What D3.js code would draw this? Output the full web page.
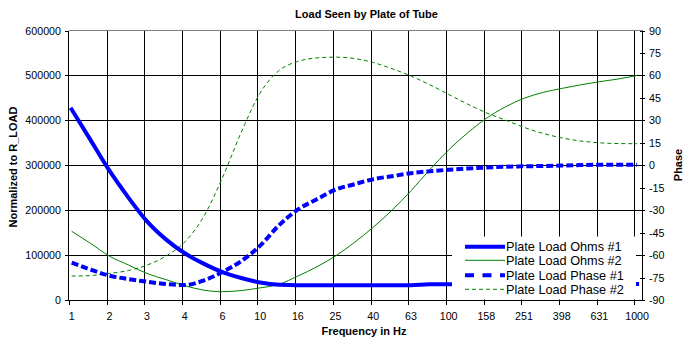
<!DOCTYPE html>
<html>
<head>
<meta charset="utf-8">
<script src="https://cdn.jsdelivr.net/npm/d3@7/dist/d3.min.js"></script>
<style>
  html, body { margin: 0; padding: 0; background: #fff; }
  svg { display: block; font-family: "Liberation Sans", Arial, sans-serif; }
</style>
</head>
<body>
<svg id="chart" width="688" height="341"></svg>
<script>
// Frequencies (Hz) at which the load was evaluated
const freqs = [1, 1.26, 1.58, 2.00, 2.51, 3.16, 3.98, 5.01, 6.31, 7.94,
               10, 12.6, 15.8, 20.0, 25.1, 31.6, 39.8, 50.1, 63.1, 79.4,
               100, 126, 158, 200, 251, 316, 398, 501, 631, 794, 1000];

// Plate load magnitude, normalized to R_LOAD (left axis)
const ohms1 = [424000, 356000, 289000, 228000, 175000, 135000, 104000, 81000, 62000, 49000,
               39000, 34000, 33000, 33000, 33000, 33000, 33000, 33000, 33000, 35000,
               35000, 35000, 35000, 35000, 35000, 35000, 35000, 35000, 35000, 35000, 35500];
const ohms2 = [153000, 126000, 98000, 78000, 59000, 45500, 32000, 22000, 18500, 21000,
               27000, 35000, 53000, 74000, 98000, 128000, 162000, 200000, 243000, 290000,
               334000, 372000, 404000, 430000, 449000, 462000, 471000, 479000, 486000, 492000, 500000];

// Plate load phase in degrees (right axis)
const phase1 = [-65.1, -69.7, -73.7, -76, -77.8, -79.3, -80, -77, -71.3, -64,
                -53.7, -40, -29.7, -22.7, -16.3, -12.7, -9.3, -7.3, -5.3, -4,
                -3, -2.2, -1.5, -1, -0.7, -0.5, -0.2, 0.1, 0.3, 0.3, 0.3];
const phase2 = [-74, -73.7, -72.3, -70.3, -66.7, -60.7, -51.3, -34.4, -8.3, 22.1,
                48.3, 63.3, 69.3, 71.7, 72.2, 71.3, 68.6, 64.5, 59.6, 53.8,
                47.3, 40.9, 35.1, 30.2, 25.3, 21.3, 18.3, 16.2, 15, 14.5, 14.4];

// Axis ticks
const xTickFreqs = [1, 1.585, 2.512, 3.981, 6.310, 10, 15.85, 25.12, 39.81, 63.10,
                    100, 158.5, 251.2, 398.1, 631.0, 1000];
const xTickLabels = ["1", "2", "3", "4", "6", "10", "16", "25", "40", "63",
                     "100", "158", "251", "398", "631", "1000"];
const leftTicks = [0, 100000, 200000, 300000, 400000, 500000, 600000];
const rightTicks = [-90, -75, -60, -45, -30, -15, 0, 15, 30, 45, 60, 75, 90];

const seriesNames = ["Plate Load Ohms #1", "Plate Load Ohms #2", "Plate Load Phase #1", "Plate Load Phase #2"];

const svg = d3.select("#chart");
const plot = { left: 69, right: 643, top: 30.5, bottom: 300 };

// Category-style log axis: each point sits at the centre of its slot
const x = d3.scaleLog().domain([1, 1000]).range([71.7, 637.1]);
const half = (x(Math.pow(10, 1 / 35)) - x(1)) / 2;
const yL = d3.scaleLinear().domain([0, 600000]).range([plot.bottom, plot.top]);
const yR = d3.scaleLinear().domain([-90, 90]).range([plot.bottom, plot.top]);

const blue = "#0000ff", green = "#008000";
const tickFont = "10.7px";

// Gridlines
const grid = svg.append("g").attr("shape-rendering", "crispEdges");
grid.selectAll("line.h").data(leftTicks.slice(1, -1)).join("line")
  .attr("x1", plot.left).attr("x2", plot.right)
  .attr("y1", d => Math.round(yL(d)) + 0.5).attr("y2", d => Math.round(yL(d)) + 0.5)
  .attr("stroke", "#000");
grid.selectAll("line.v").data(xTickFreqs.slice(1)).join("line")
  .attr("x1", d => Math.round(x(d) - half) + 0.5).attr("x2", d => Math.round(x(d) - half) + 0.5)
  .attr("y1", plot.top).attr("y2", plot.bottom)
  .attr("stroke", "#000");
// top border of the plot area
grid.append("line").attr("x1", plot.left).attr("x2", plot.right)
  .attr("y1", 30.5).attr("y2", 30.5).attr("stroke", "#808080");

// Series
svg.append("clipPath").attr("id", "clip").append("rect")
  .attr("x", plot.left).attr("y", plot.top).attr("width", plot.right - plot.left).attr("height", plot.bottom - plot.top);
const g = svg.append("g").attr("clip-path", "url(#clip)");

const lineL = d3.line().x((d, i) => x(freqs[i])).y(d => yL(d)).curve(d3.curveMonotoneX);
const lineR = d3.line().x((d, i) => x(freqs[i])).y(d => yR(d)).curve(d3.curveMonotoneX);

g.append("path").attr("d", lineR(phase2)).attr("fill", "none")
  .attr("stroke", green).attr("stroke-width", 1).attr("stroke-dasharray", "4,3");
g.append("path").attr("d", lineL(ohms2)).attr("fill", "none")
  .attr("stroke", green).attr("stroke-width", 1);
g.append("path").attr("d", lineR(phase1)).attr("fill", "none")
  .attr("stroke", blue).attr("stroke-width", 4).attr("stroke-dasharray", "7,3");
g.append("path").attr("d", lineL(ohms1)).attr("fill", "none")
  .attr("stroke", blue).attr("stroke-width", 4).attr("stroke-linecap", "square");

// Axes lines
const ax = svg.append("g").attr("shape-rendering", "crispEdges").attr("stroke", "#000");
ax.append("line").attr("x1", plot.left - 0.5).attr("x2", plot.left - 0.5).attr("y1", plot.top).attr("y2", plot.bottom + 0.5);
ax.append("line").attr("x1", plot.right - 0.5).attr("x2", plot.right - 0.5).attr("y1", plot.top).attr("y2", plot.bottom + 0.5);
ax.append("line").attr("x1", plot.left - 0.5).attr("x2", plot.right).attr("y1", plot.bottom + 0.5).attr("y2", plot.bottom + 0.5);

// Left ticks and labels
ax.selectAll("line.lt").data(leftTicks).join("line")
  .attr("x1", plot.left - 4).attr("x2", plot.left)
  .attr("y1", d => Math.round(yL(d)) + 0.5).attr("y2", d => Math.round(yL(d)) + 0.5);
svg.selectAll("text.lt").data(leftTicks).join("text")
  .attr("x", 61).attr("y", d => yL(d) + 4).attr("text-anchor", "end")
  .attr("font-size", tickFont).text(d => d);

// Right ticks and labels
ax.selectAll("line.rt").data(rightTicks).join("line")
  .attr("x1", plot.right - 3).attr("x2", plot.right + 2)
  .attr("y1", d => Math.round(yR(d)) + 0.5).attr("y2", d => Math.round(yR(d)) + 0.5);
svg.selectAll("text.rt").data(rightTicks).join("text")
  .attr("x", 649).attr("y", d => yR(d) + 4).attr("text-anchor", "start")
  .attr("font-size", tickFont).text(d => d);

// Bottom ticks and labels
ax.selectAll("line.bt").data(xTickFreqs).join("line")
  .attr("x1", d => Math.round(x(d) - half) + 0.5).attr("x2", d => Math.round(x(d) - half) + 0.5)
  .attr("y1", plot.bottom).attr("y2", plot.bottom + 5);
svg.selectAll("text.bt").data(xTickFreqs).join("text")
  .attr("x", d => x(d)).attr("y", 319.5).attr("text-anchor", "middle")
  .attr("font-size", tickFont).text((d, i) => xTickLabels[i]);

// Titles
svg.append("text").attr("x", 366.5).attr("y", 17.5).attr("text-anchor", "middle")
  .attr("font-size", "11px").attr("font-weight", "bold").text("Load Seen by Plate of Tube");
svg.append("text").attr("x", 364).attr("y", 335).attr("text-anchor", "middle")
  .attr("font-size", "11px").attr("font-weight", "bold").text("Frequency in Hz");
svg.append("text").attr("transform", "translate(16.5,167) rotate(-90)").attr("text-anchor", "middle")
  .attr("font-size", "11px").attr("font-weight", "bold").text("Normalized to R_LOAD");
svg.append("text").attr("transform", "translate(681.5,165) rotate(-90)").attr("text-anchor", "middle")
  .attr("font-size", "11px").attr("font-weight", "bold").text("Phase");

// Legend
const lg = svg.append("g");
lg.append("rect").attr("x", 452).attr("y", 236.5).attr("width", 184).attr("height", 63).attr("fill", "#fff");
const legendRows = [246.7, 260.3, 275.3, 289.3];
const legendStyles = [
  { color: blue, width: 4, dash: null },
  { color: green, width: 1, dash: null },
  { color: blue, width: 4, dash: "9,8.5" },
  { color: green, width: 1, dash: "4,3" }
];
seriesNames.forEach((name, i) => {
  const yy = legendRows[i];
  lg.append("line").attr("x1", 465).attr("x2", 505).attr("y1", yy).attr("y2", yy)
    .attr("stroke", legendStyles[i].color).attr("stroke-width", legendStyles[i].width)
    .attr("stroke-dasharray", legendStyles[i].dash);
  lg.append("text").attr("x", 506).attr("y", yy + 4.6).attr("font-size", "12.7px").text(name);
});
</script>
</body>
</html>
